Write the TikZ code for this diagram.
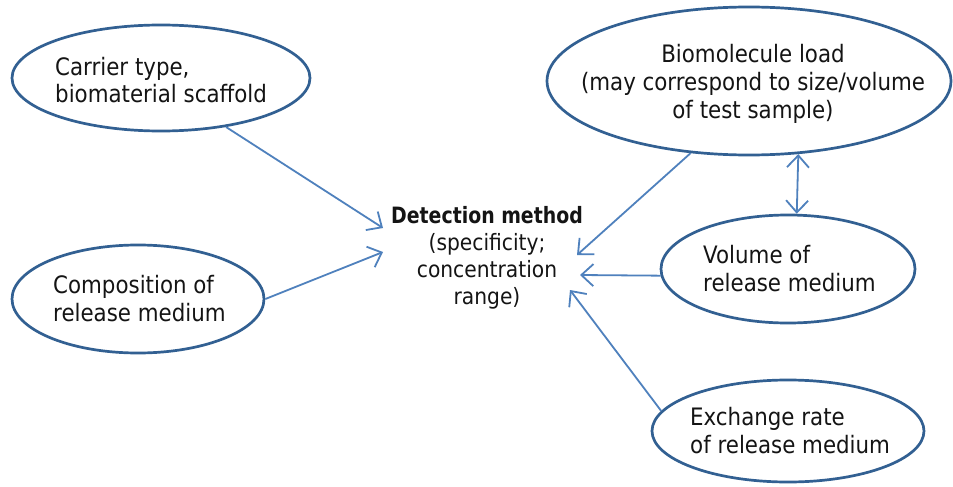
\documentclass[tikz,border=0pt]{standalone}
\usepackage{fontspec}
\setmainfont{DejaVu Sans}[FakeStretch=0.89]
\newfontfamily\detfam{DejaVu Sans}[FakeStretch=0.84]
\newfontfamily\detreg{DejaVu Sans}[FakeStretch=0.90]
\usetikzlibrary{shapes.geometric,arrows.meta}
\definecolor{edgeblue}{RGB}{50,96,146}
\definecolor{arrowblue}{RGB}{79,129,189}
\definecolor{txt}{RGB}{20,20,20}
\begin{document}
\begin{tikzpicture}[x=1pt,y=-1pt,
  bubble/.style={ellipse, draw=edgeblue, line width=2.7pt, inner sep=0pt, fill=white},
  ltext/.style={anchor=base west, inner sep=0pt, text=txt, font=\fontsize{24}{28}\selectfont},
  ctext/.style={anchor=base, inner sep=0pt, text=txt, font=\fontsize{24}{28}\selectfont},
  dtext/.style={anchor=base, inner sep=0pt, text=txt, font=\detreg\fontsize{22.5}{27}\selectfont},
  link/.style={draw=arrowblue, line width=1.8pt, -{Straight Barb[length=12pt,width=22pt]}},
  twolink/.style={draw=arrowblue, line width=1.8pt, {Straight Barb[length=12pt,width=22pt]}-{Straight Barb[length=12pt,width=22pt]}},
]
\useasboundingbox (0,0) rectangle (953,487);
\fill[white] (0,0) rectangle (953,487);

% bubbles
\node[bubble, minimum width=298pt, minimum height=106pt] (carrier) at (161,78) {};
\node[bubble, minimum width=252pt, minimum height=108pt] (comp) at (138,299) {};
\node[bubble, minimum width=404pt, minimum height=148pt] (bio) at (749,81) {};
\node[bubble, minimum width=254pt, minimum height=108pt] (vol) at (788,269) {};
\node[bubble, minimum width=272pt, minimum height=102pt] (exch) at (788,431) {};

% texts
\node[ltext] (carrierT) at (55,75) {\begin{tabular}[t]{@{}l@{}}Carrier type,\\ biomaterial scaffold\end{tabular}};
\node[ltext] (compT) at (53,293) {\begin{tabular}[t]{@{}l@{}}Composition of\\ release medium\end{tabular}};
\node[ctext] (bioT) at (753,63) {\begin{tabular}[t]{@{}c@{}}Biomolecule load\\ (may correspond to size/volume\\ of test sample)\end{tabular}};
\node[ltext] (volT) at (703,263) {\begin{tabular}[t]{@{}l@{}}Volume of\\ release medium\end{tabular}};
\node[ltext] (exchT) at (690,425) {\begin{tabular}[t]{@{}l@{}}Exchange rate\\ of release medium\end{tabular}};
\node[dtext] (det) at (487,223) {\begin{tabular}[t]{@{}c@{}}{\detfam\bfseries Detection method}\\ (specificity;\\ concentration\\ range)\end{tabular}};

% connectors
\draw[link] (carrier.-37.4) -- ([shift={(-104,5)}]det.base);
\draw[link] (comp.east) -- ([shift={(-104,29)}]det.base);
\draw[link] (bio.-129.5) -- ([shift={(90,32)}]det.base);
\draw[link] (vol.-177.3) -- ([shift={(93,52)}]det.base);
\draw[link] (exch.171.9) -- ([shift={(83,67)}]det.base);
\draw[twolink] (bio.-56.9) -- (vol.81.6);
\end{tikzpicture}
\end{document}
